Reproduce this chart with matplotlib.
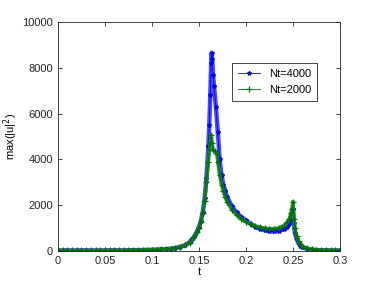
import matplotlib
matplotlib.use("Agg")
import matplotlib.pyplot as plt

t_4000 = [0.000, 0.005, 0.010, 0.015, 0.020, 0.025, 0.030, 0.035, 0.040, 0.045,
          0.050, 0.055, 0.060, 0.065, 0.070, 0.075, 0.080, 0.085, 0.090, 0.095,
          0.100, 0.105, 0.110, 0.115, 0.120, 0.125, 0.130, 0.135, 0.140, 0.142,
          0.144, 0.146, 0.148, 0.150, 0.152, 0.154, 0.156, 0.158, 0.160, 0.161,
          0.162, 0.163, 0.1635, 0.164, 0.165, 0.166, 0.168, 0.170, 0.172, 0.174,
          0.176, 0.178, 0.180, 0.185, 0.190, 0.195, 0.200, 0.205, 0.210, 0.215,
          0.220, 0.225, 0.230, 0.235, 0.240, 0.242, 0.244, 0.246, 0.248, 0.249,
          0.250, 0.251, 0.252, 0.254, 0.256, 0.258, 0.260, 0.265, 0.270, 0.275,
          0.280, 0.285, 0.290, 0.295, 0.300]
u_4000 = [20, 20, 20, 20, 20, 20, 20, 20, 20, 20,
          20, 22, 22, 24, 25, 27, 30, 33, 38, 43,
          50, 58, 68, 82, 100, 130, 180, 250, 380, 480,
          580, 700, 850, 1050, 1300, 1700, 2300, 3200, 4600, 5500,
          6800, 8200, 8650, 8400, 7700, 7200, 6300, 5200, 4000, 3300,
          2900, 2600, 2350, 1950, 1680, 1480, 1330, 1180, 1060, 970,
          900, 860, 850, 870, 940, 990, 1060, 1160, 1350, 1600,
          1850, 1200, 800, 500, 330, 230, 170, 90, 55, 40,
          30, 25, 22, 20, 20]

t_2000 = [0.000, 0.005, 0.010, 0.015, 0.020, 0.025, 0.030, 0.035, 0.040, 0.045,
          0.050, 0.055, 0.060, 0.065, 0.070, 0.075, 0.080, 0.085, 0.090, 0.095,
          0.100, 0.105, 0.110, 0.115, 0.120, 0.125, 0.130, 0.135, 0.140, 0.144,
          0.148, 0.150, 0.152, 0.154, 0.156, 0.158, 0.160, 0.162, 0.163, 0.164,
          0.165, 0.167, 0.169, 0.170, 0.172, 0.174, 0.176, 0.178, 0.180, 0.185,
          0.190, 0.195, 0.200, 0.205, 0.210, 0.215, 0.220, 0.225, 0.230, 0.235,
          0.240, 0.244, 0.246, 0.248, 0.249, 0.250, 0.251, 0.252, 0.254, 0.256,
          0.258, 0.260, 0.265, 0.270, 0.275, 0.280, 0.285, 0.290, 0.295, 0.300]
u_2000 = [20, 20, 20, 20, 20, 20, 20, 20, 20, 20,
          20, 22, 23, 25, 26, 28, 31, 35, 40, 45,
          52, 60, 70, 84, 100, 130, 170, 240, 360, 550,
          820, 1000, 1280, 1650, 2200, 3000, 3900, 4700, 5050, 4700,
          4400, 4350, 4250, 3900, 3300, 2900, 2600, 2350, 2150, 1800,
          1570, 1400, 1270, 1170, 1090, 1030, 990, 970, 975, 1010,
          1100, 1250, 1400, 1650, 1850, 2150, 1400, 1000, 650, 420,
          290, 210, 110, 70, 50, 40, 30, 25, 22, 20]

x_ticks = [0, 0.05, 0.1, 0.15, 0.2, 0.25, 0.3]
x_labels = ['0', '0.05', '0.1', '0.15', '0.2', '0.25', '0.3']
y_ticks = [0, 2000, 4000, 6000, 8000, 10000]

plt.rcParams['font.family'] = ['Liberation Sans', 'DejaVu Sans']
plt.rcParams['font.size'] = 8

fig = plt.figure(figsize=(3.74, 2.81), dpi=100)
ax = fig.add_axes([0.155, 0.107, 0.754, 0.815])

# dense markers in the original make each curve look like a thick band
ax.plot(t_4000, u_4000, color='#2a2aff', linewidth=3.2, alpha=0.85,
        solid_joinstyle='round')
ax.plot(t_4000, u_4000, color='#0000ff', marker='*', markersize=3,
        linewidth=0.6, label='Nt=4000')
ax.plot(t_2000, u_2000, color='#1a8a1a', linewidth=2.6, alpha=0.9,
        solid_joinstyle='round')
ax.plot(t_2000, u_2000, color='#007000', marker='+', markersize=4,
        markeredgewidth=0.9, linewidth=0.6, label='Nt=2000')

ax.set_xlim(0, 0.3)
ax.set_ylim(0, 10000)
ax.set_xticks(x_ticks)
ax.set_xticklabels(x_labels)
ax.set_yticks(y_ticks)
ax.tick_params(direction='in', top=True, right=True, length=3, width=0.6,
               labelsize=8, colors='#262626')
for s in ax.spines.values():
    s.set_linewidth(0.6)
    s.set_color('#262626')

ax.set_xlabel('t', labelpad=1)
ax.set_ylabel('max(|u|$^2$)', labelpad=2)

leg = ax.legend(loc='upper right', bbox_to_anchor=(0.94, 0.845), fancybox=False,
                edgecolor='#262626', framealpha=1, borderpad=0.55,
                handlelength=2.0, fontsize=8)
leg.get_frame().set_linewidth(0.6)

fig.savefig('out.png', dpi=100)
